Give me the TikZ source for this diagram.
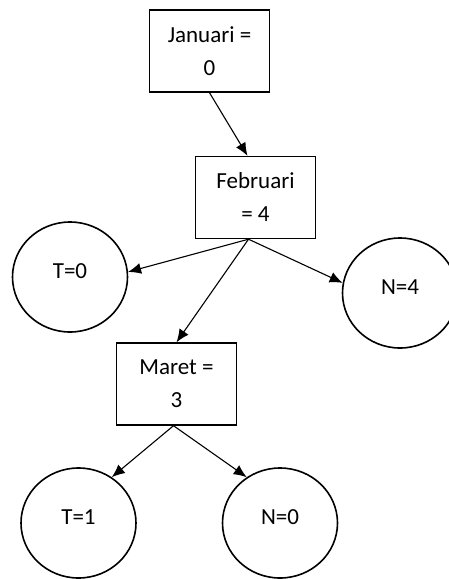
\documentclass[tikz,border=0pt]{standalone}
\usepackage{fontspec}
\setmainfont{Carlito}
\usetikzlibrary{positioning,arrows.meta,shapes}

\begin{document}
\begin{tikzpicture}[x=1pt,y=-1pt,
            font=\fontsize{23}{33}\selectfont,
            month/.style={draw,line width=1.4pt,minimum width=120pt,
                          minimum height=82pt,align=center,inner sep=0pt},
            leaf/.style={draw,ellipse,line width=1.6pt,minimum width=115pt,
                         minimum height=110pt,inner sep=0pt,text depth=12pt},
            link/.style={draw,line width=1.1pt,-{Latex[length=13pt,width=11pt]}}]
        \useasboundingbox (0,0) rectangle (448,579);
        % months
        \node[month] (jan) at (209.5,51) {Januari =\\0};
        \node[month] (feb) at (255.5,197.5) {Februari\\= 4};
        \node[month] (mar) at (176.5,384) {Maret =\\3};
        % outcomes
        \node[leaf] (t0) at (70,277) {T=0};
        \node[leaf] (n4) at (400,293) {N=4};
        \node[leaf] (t1) at (78.5,523) {T=1};
        \node[leaf] (n0) at (280,523) {N=0};
        % links
        \draw[link] (jan.south) -- ([xshift=-8pt]feb.north);
        \draw[link] ([xshift=-7pt]feb.south) -- (t0.5);
        \draw[link] ([xshift=-7pt]feb.south) -- (n4.170);
        \draw[link] ([xshift=-7pt]feb.south) -- (mar.north);
        \draw[link] ([xshift=-3pt]mar.south) -- (t1.54);
        \draw[link] ([xshift=-3pt]mar.south) -- (n0.126);
        \end{tikzpicture}
\end{document}
